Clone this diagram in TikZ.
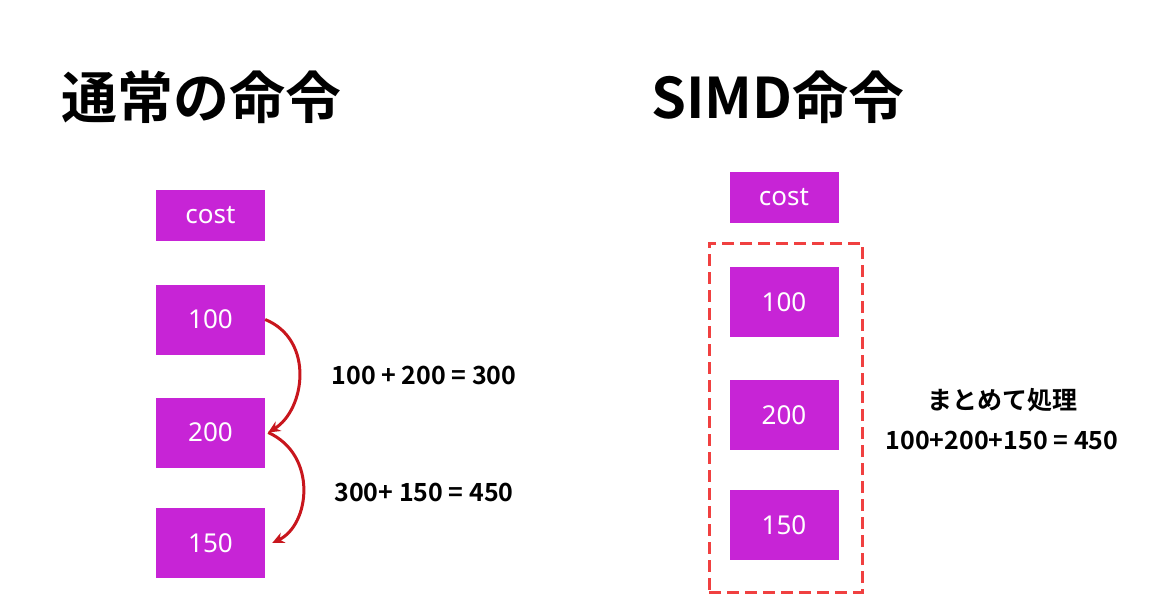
\documentclass[tikz,border=0pt]{standalone}
\usepackage{fontspec}
\usetikzlibrary{arrows.meta}
\setmainfont{Noto Sans}
\newfontfamily\jpb{Noto Sans CJK JP}[BoldFont={* Bold}]
\begin{document}
\begin{tikzpicture}[x=1pt,y=-1pt,
  cell/.style={fill=mag,text=white,minimum width=109pt,minimum height=70pt,inner sep=0pt,font=\fontsize{26}{30}\selectfont},
  costcell/.style={cell,minimum height=51pt},
  title/.style={font=\jpb\bfseries\fontsize{56}{60}\selectfont,anchor=west},
  lab/.style={font=\jpb\bfseries\fontsize{25}{30}\selectfont},
  arr/.style={draw=arrred,line width=3pt,-{Stealth[length=12pt,width=11pt]}}]
\definecolor{mag}{HTML}{C724D6}
\definecolor{arrred}{HTML}{C8161D}
\definecolor{dashred}{HTML}{F04040}
\useasboundingbox (0,0) rectangle (1161,594);
\node[title] (t1) at (58,97) {通常の命令};
\node[title] (t2) at (648,97) {SIMD命令};
\node[costcell] (lc) at (210.5,215.5) {cost};
\node[cell] (l1) at (210.5,319.5) {100};
\node[cell] (l2) at (210.5,432.5) {200};
\node[cell] (l3) at (210.5,543) {150};
\draw[arr] (l1.east) .. controls (315,340) and (305,410) .. ([xshift=3pt]l2.east);
\draw[arr] ([xshift=3pt]l2.east) .. controls (318,455) and (310,525) .. ([xshift=7pt]l3.east);
\node[lab] (e1) at (424,375) {100 + 200 = 300};
\node[lab] (e2) at (424,492) {300+ 150 = 450};
\node[costcell] (rc) at (784,197.5) {cost};
\node[cell] (r1) at (784,302) {100};
\node[cell] (r2) at (784,415) {200};
\node[cell] (r3) at (784,525) {150};
\node[draw=dashred,line width=3pt,dash pattern=on 12pt off 6pt,minimum width=153pt,minimum height=349pt,inner sep=0pt] (grp) at (785.5,417.5) {};
\node[lab] (m1) at (1002,400) {まとめて処理};
\node[lab] (m2) at (1002,440) {100+200+150 = 450};
\end{tikzpicture}
\end{document}
